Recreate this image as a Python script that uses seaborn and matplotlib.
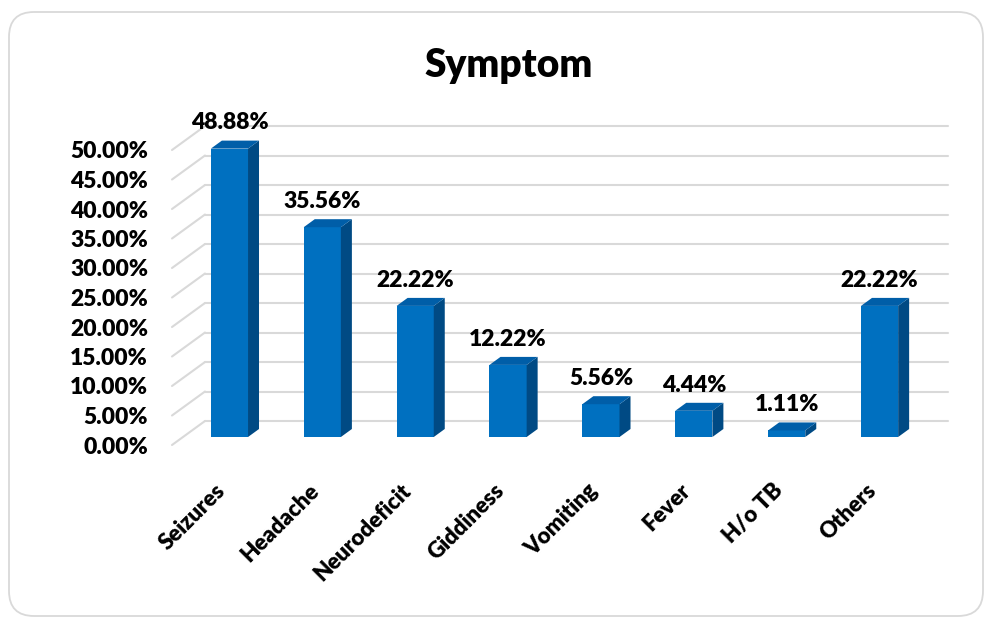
import matplotlib
matplotlib.use('Agg')
import matplotlib.pyplot as plt
import matplotlib.transforms as mtrans
from matplotlib.lines import Line2D
from matplotlib.patches import Polygon, FancyBboxPatch
import seaborn as sns
import pandas as pd
import numpy as np

# data
symptoms = ['Seizures', 'Headache', 'Neurodeficit', 'Giddiness',
            'Vomiting', 'Fever', 'H/o TB', 'Others']
percent = [48.88, 35.56, 22.22, 12.22, 5.56, 4.44, 1.11, 22.22]
y_ticks = [0, 5, 10, 15, 20, 25, 30, 35, 40, 45, 50]
y_tick_labels = ['%.2f%%' % t for t in y_ticks]

FRONT = '#0070C0'
SIDE = '#004A84'
TOP = '#005EA8'
GRID = '#d9d9d9'
WEIGHT = 'heavy'

sns.set_style('white')
plt.rcParams['font.family'] = ['Lato', 'DejaVu Sans']

W, H = 995, 618
fig = plt.figure(figsize=(W / 100, H / 100), dpi=100)
ax = fig.add_axes([183 / W, 181 / H, 743 / W, 295 / H])

df = pd.DataFrame({'symptom': symptoms, 'percent': percent})
sns.barplot(data=df, x='symptom', y='percent', color=FRONT, saturation=1,
            width=0.4, linewidth=0, edgecolor='none', ax=ax, zorder=3)
ax.set_xlim(-0.5, 7.5)
ax.set_ylim(0, 50)
ax.set_axis_off()

ident = mtrans.IdentityTransform()
depth = np.array([11.0, 8.0])  # pixel shift for one bar depth


def proj(x, y, d):
    return ax.transData.transform((x, y)) + d * depth


# back wall gridlines and the floor diagonals
x0, x1 = ax.get_xlim()
for t, lab in zip(y_ticks, y_tick_labels):
    a = proj(x0, t, 2)
    b = proj(x1, t, 2)
    c = proj(x0, t, -1)
    ax.add_artist(Line2D([a[0], b[0]], [a[1], b[1]], color=GRID, lw=1.5,
                         transform=ident, clip_on=False, zorder=1))
    ax.add_artist(Line2D([c[0], a[0]], [c[1], a[1]], color=GRID, lw=1.5,
                         transform=ident, clip_on=False, zorder=1))
    ax.text(148, c[1] - 2, lab, transform=ident, ha='right', va='center',
            fontsize=16.5, fontweight=WEIGHT, color='black')

# side and top faces of the bars
for p in ax.patches:
    bx, bw, bh = p.get_x(), p.get_width(), p.get_height()
    side = [proj(bx + bw, 0, 0), proj(bx + bw, 0, 1),
            proj(bx + bw, bh, 1), proj(bx + bw, bh, 0)]
    top = [proj(bx, bh, 0), proj(bx + bw, bh, 0),
           proj(bx + bw, bh, 1), proj(bx, bh, 1)]
    ax.add_artist(Polygon(side, closed=True, facecolor=SIDE, edgecolor='none',
                          transform=ident, clip_on=False, zorder=3))
    ax.add_artist(Polygon(top, closed=True, facecolor=TOP, edgecolor='none',
                          transform=ident, clip_on=False, zorder=3))

ax.bar_label(ax.containers[0], labels=['%.2f%%' % v for v in percent],
             padding=11, fontsize=16.5, fontweight=WEIGHT, color='black')

# category labels, rotated
for i, name in enumerate(symptoms):
    px, py = proj(i, 0, 0)
    ax.text(px - 7, py - 50, name, transform=ident, ha='right', va='center',
            rotation=45, rotation_mode='anchor', fontsize=16,
            fontweight=WEIGHT, color='black')

fig.text(509 / W, 1 - 66 / H, 'Symptom', ha='center', va='center',
         fontsize=28, fontweight=WEIGHT, color='black')

# rounded chart border
fig.add_artist(FancyBboxPatch((9, 2), 974, 604,
                              boxstyle='round,pad=0,rounding_size=25',
                              facecolor='none', edgecolor=GRID, lw=1.3,
                              transform=ident))

fig.savefig('out.png', dpi=100)
